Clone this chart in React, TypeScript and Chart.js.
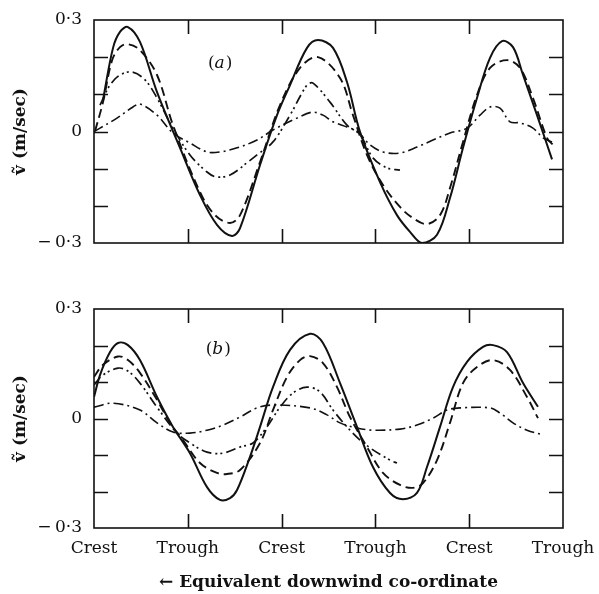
import React, { useEffect, useRef } from "react";
import { Chart, registerables } from "chart.js";

Chart.register(...registerables);

// ---------- data ----------
const xTickLabels = ["Crest", "Trough", "Crest", "Trough", "Crest", "Trough"];
const yTickValues = [-0.3, -0.2, -0.1, 0, 0.1, 0.2, 0.3];
const yLabelled: Record<string, string> = { "0.3": "0·3", "0": "0", "-0.3": "−\u20090·3" };

// panel (a)
const aSolid = [
  [0.096, 0.085], [0.203, 0.225], [0.277, 0.268], [0.362, 0.281], [0.49, 0.241],
  [0.672, 0.106], [0.917, -0.044], [1.13, -0.171], [1.311, -0.251], [1.471, -0.281], [1.557, -0.26],
  [1.77, -0.09], [1.951, 0.044], [2.09, 0.125], [2.271, 0.225], [2.388, 0.246], [2.548, 0.225],
  [2.697, 0.133], [2.836, -0.001], [3.049, -0.136], [3.23, -0.225], [3.369, -0.27], [3.497, -0.3],
  [3.657, -0.278], [3.795, -0.179], [3.934, -0.044], [4.083, 0.09], [4.222, 0.198], [4.35, 0.243],
  [4.467, 0.227], [4.574, 0.152], [4.723, 0.044], [4.883, -0.075],
];
const aDashed = [
  [0.011, 0.001], [0.096, 0.079], [0.192, 0.191], [0.277, 0.227], [0.362, 0.235], [0.49, 0.219],
  [0.672, 0.152], [0.842, 0.017], [1.13, -0.163], [1.29, -0.225], [1.45, -0.246], [1.557, -0.225],
  [1.77, -0.082], [1.983, 0.071], [2.196, 0.171], [2.388, 0.2], [2.623, 0.144], [2.761, 0.044],
  [2.91, -0.063], [3.081, -0.144], [3.262, -0.203], [3.401, -0.233], [3.55, -0.249], [3.689, -0.225],
  [3.795, -0.152], [3.934, -0.028], [4.083, 0.098], [4.222, 0.171], [4.403, 0.192], [4.542, 0.171],
  [4.68, 0.09], [4.829, -0.017], [4.893, -0.036],
];
const aDashDotDot = [
  [0.064, 0.071], [0.171, 0.125], [0.277, 0.152], [0.405, 0.16], [0.544, 0.139], [0.672, 0.09],
  [0.842, 0.009], [1.023, -0.063], [1.205, -0.109], [1.301, -0.122], [1.45, -0.117], [1.642, -0.082],
  [1.738, -0.063], [1.908, -0.028], [2.09, 0.044], [2.271, 0.125], [2.335, 0.13], [2.516, 0.079],
  [2.697, 0.017], [2.836, -0.009], [2.974, -0.071], [3.124, -0.098], [3.262, -0.104],
];
const aDashDot = [
  [0, 0], [0.064, 0.009], [0.245, 0.036], [0.416, 0.066], [0.49, 0.074], [0.672, 0.044],
  [0.842, -0.004], [1.023, -0.031], [1.205, -0.055], [1.343, -0.055], [1.525, -0.044], [1.738, -0.023],
  [1.908, 0.004], [2.164, 0.036], [2.324, 0.052], [2.441, 0.044], [2.548, 0.026], [2.697, 0.012],
  [2.814, -0.001], [2.942, -0.036], [3.081, -0.055], [3.262, -0.058], [3.443, -0.042], [3.614, -0.023],
  [3.795, -0.004], [3.977, 0.009], [4.115, 0.044], [4.222, 0.066], [4.328, 0.063], [4.435, 0.026],
  [4.542, 0.023], [4.68, 0.009], [4.787, -0.017], [4.883, -0.028],
];

// panel (b)
const bSolid = [
  [0, 0.059], [0.064, 0.119], [0.171, 0.182], [0.256, 0.207], [0.362, 0.201], [0.49, 0.16],
  [0.672, 0.059], [0.842, -0.023], [1.023, -0.095], [1.205, -0.188], [1.343, -0.223], [1.45, -0.218],
  [1.525, -0.196], [1.663, -0.105], [1.77, -0.023], [1.908, 0.086], [2.09, 0.188], [2.303, 0.232],
  [2.441, 0.207], [2.623, 0.097], [2.804, -0.023], [2.974, -0.133], [3.156, -0.204], [3.294, -0.221],
  [3.443, -0.204], [3.55, -0.133], [3.689, -0.023], [3.827, 0.086], [3.977, 0.155], [4.147, 0.196],
  [4.254, 0.201], [4.403, 0.182], [4.574, 0.097], [4.733, 0.032],
];
const bDashed = [
  [0, 0.114], [0.096, 0.147], [0.256, 0.17], [0.362, 0.16], [0.49, 0.125], [0.672, 0.051],
  [0.81, -0.012], [0.949, -0.059], [1.13, -0.122], [1.311, -0.149], [1.418, -0.152], [1.557, -0.141],
  [1.77, -0.067], [1.908, 0.023], [2.058, 0.114], [2.196, 0.16], [2.303, 0.171], [2.441, 0.152],
  [2.591, 0.086], [2.729, 0.004], [2.91, -0.078], [3.081, -0.149], [3.262, -0.182], [3.401, -0.19],
  [3.507, -0.177], [3.657, -0.114], [3.795, -0.012], [3.934, 0.097], [4.083, 0.141], [4.254, 0.16],
  [4.435, 0.133], [4.616, 0.059], [4.733, 0.001],
];
const bDashDotDot = [
  [0, 0.092], [0.096, 0.119], [0.256, 0.138], [0.362, 0.13], [0.49, 0.097], [0.672, 0.031],
  [0.885, -0.04], [1.023, -0.067], [1.205, -0.092], [1.375, -0.095], [1.557, -0.078], [1.695, -0.067],
  [1.844, -0.023], [1.983, 0.031], [2.122, 0.07], [2.271, 0.086], [2.409, 0.073], [2.548, 0.023],
  [2.697, -0.023], [2.836, -0.059], [2.974, -0.086], [3.156, -0.114], [3.23, -0.122],
];
const bDashDot = [
  [0, 0.031], [0.203, 0.042], [0.49, 0.023], [0.672, -0.012], [0.842, -0.037], [1.023, -0.04],
  [1.205, -0.032], [1.375, -0.018], [1.557, 0.004], [1.738, 0.029], [1.908, 0.037], [2.303, 0.029],
  [2.484, 0.01], [2.623, -0.012], [2.804, -0.026], [2.974, -0.032], [3.262, -0.029], [3.443, -0.018],
  [3.614, 0.001], [3.763, 0.023], [3.902, 0.029], [4.222, 0.029], [4.328, 0.015], [4.467, -0.012],
  [4.616, -0.032], [4.787, -0.045],
];

// ---------- styling ----------
const INK = "#111";
const SERIF = '"DejaVu Serif", "Liberation Serif", serif';
const dashSolid: number[] = [];
const dashLong = [9, 5];
const dashDotDot = [10, 4, 2, 3, 2, 4];
const dashDot = [10, 4, 2, 4];

function makeDataset(points: number[][], dash: number[], width: number) {
  return {
    data: points.map(([x, y]) => ({ x, y })),
    borderColor: INK,
    borderWidth: width,
    borderDash: dash,
    pointRadius: 0,
    tension: 0.35,
    fill: false,
  };
}

function framePlugin(label: string, labelX: number, labelY: number) {
  return {
    id: "frameTicks",
    afterDraw(chart: any) {
      const { ctx, chartArea } = chart;
      const { left, right, top, bottom } = chartArea;
      const xs = chart.scales.x;
      const ys = chart.scales.y;
      ctx.save();
      ctx.strokeStyle = INK;
      ctx.lineWidth = 1.6;
      ctx.setLineDash([]);
      ctx.strokeRect(left, top, right - left, bottom - top);
      const L = 14;
      ctx.beginPath();
      for (const v of yTickValues) {
        if (Math.abs(Math.abs(v) - 0.3) < 1e-9) continue;
        const py = Math.round(ys.getPixelForValue(v)) + 0.5;
        ctx.moveTo(left, py);
        ctx.lineTo(left + L, py);
        ctx.moveTo(right, py);
        ctx.lineTo(right - L, py);
      }
      for (let i = 1; i < xTickLabels.length - 1; i++) {
        const px = Math.round(xs.getPixelForValue(i)) + 0.5;
        ctx.moveTo(px, top);
        ctx.lineTo(px, top + L);
        ctx.moveTo(px, bottom);
        ctx.lineTo(px, bottom - L);
      }
      ctx.stroke();

      // panel label "(a)" / "(b)" with italic letter
      const cx = xs.getPixelForValue(labelX);
      const cy = ys.getPixelForValue(labelY);
      ctx.fillStyle = INK;
      ctx.textBaseline = "middle";
      const up = `17px ${SERIF}`;
      const it = `italic 17px ${SERIF}`;
      ctx.font = up;
      const wP = ctx.measureText("(").width;
      const wC = ctx.measureText(")").width;
      ctx.font = it;
      const wL = ctx.measureText(label).width;
      let x0 = cx - (wP + wL + wC) / 2;
      ctx.font = up;
      ctx.textAlign = "left";
      ctx.fillText("(", x0, cy);
      ctx.font = it;
      ctx.fillText(label, x0 + wP, cy);
      ctx.font = up;
      ctx.fillText(")", x0 + wP + wL + 1, cy);
      ctx.restore();
    },
  };
}

function makeConfig(
  sets: number[][][],
  opts: {
    padTop: number;
    xHeight: number;
    showX: boolean;
    label: string;
    labelX: number;
    labelY: number;
  }
): any {
  const dashes = [dashSolid, dashLong, dashDotDot, dashDot];
  const widths = [2, 1.9, 1.7, 1.6];
  return {
    type: "line",
    data: {
      datasets: sets.map((s, i) => makeDataset(s, dashes[i], widths[i])),
    },
    options: {
      animation: false,
      responsive: false,
      events: [],
      layout: { padding: { left: 0, right: 36, top: opts.padTop, bottom: 0 } },
      plugins: { legend: { display: false }, tooltip: { enabled: false } },
      scales: {
        x: {
          type: "linear",
          min: 0,
          max: 5,
          grid: { display: false, drawTicks: false },
          border: { display: false },
          afterFit: (scale: any) => {
            scale.height = opts.xHeight;
            scale.paddingLeft = 0;
            scale.paddingRight = 0;
            scale.paddingTop = 0;
            scale.paddingBottom = 0;
          },
          ticks: {
            display: opts.showX,
            stepSize: 1,
            autoSkip: false,
            maxRotation: 0,
            padding: 10,
            color: INK,
            font: { family: SERIF, size: 17 },
            callback: (v: number) => xTickLabels[Math.round(v)] ?? "",
          },
          title: {
            display: opts.showX,
            text: "← Equivalent downwind co-ordinate",
            color: INK,
            font: { family: SERIF, size: 17, weight: "bold" },
            padding: { top: 0, bottom: 1 },
          },
        },
        y: {
          type: "linear",
          min: -0.3,
          max: 0.3,
          grid: { display: false, drawTicks: false },
          border: { display: false },
          afterFit: (scale: any) => {
            scale.width = 94;
            scale.paddingLeft = 0;
            scale.paddingRight = 0;
            scale.paddingTop = 0;
            scale.paddingBottom = 0;
          },
          ticks: {
            stepSize: 0.1,
            padding: 12,
            color: INK,
            font: { family: SERIF, size: 17 },
            callback: (v: number) => {
              const key = String(Math.round(v * 10) / 10);
              return yLabelled[key === "-0" ? "0" : key] ?? "";
            },
          },
          title: {
            display: true,
            text: "ṽ (m/sec)",
            color: INK,
            font: { family: SERIF, size: 17, weight: "bold" },
            padding: { top: 10, bottom: 0 },
          },
        },
      },
    },
    plugins: [framePlugin(opts.label, opts.labelX, opts.labelY)],
  };
}

function Panel(props: { config: any; top: number; height: number }) {
  const ref = useRef<HTMLCanvasElement | null>(null);
  useEffect(() => {
    if (!ref.current) return;
    const chart = new Chart(ref.current, props.config);
    return () => chart.destroy();
  }, []);
  return (
    <canvas
      ref={ref}
      width={599}
      height={props.height}
      style={{ position: "absolute", left: 0, top: props.top, width: 599, height: props.height }}
    />
  );
}

export default function App() {
  const topConfig = makeConfig([aSolid, aDashed, aDashDotDot, aDashDot], {
    padTop: 20,
    xHeight: 17,
    showX: false,
    label: "a",
    labelX: 1.34,
    labelY: 0.184,
  });
  const bottomConfig = makeConfig([bSolid, bDashed, bDashDotDot, bDashDot], {
    padTop: 49,
    xHeight: 66,
    showX: true,
    label: "b",
    labelX: 1.32,
    labelY: 0.19,
  });
  return (
    <div style={{ position: "absolute", left: 0, top: 0, width: 599, height: 594, background: "#fff" }}>
      <Panel config={topConfig} top={0} height={260} />
      <Panel config={bottomConfig} top={260} height={334} />
    </div>
  );
}
